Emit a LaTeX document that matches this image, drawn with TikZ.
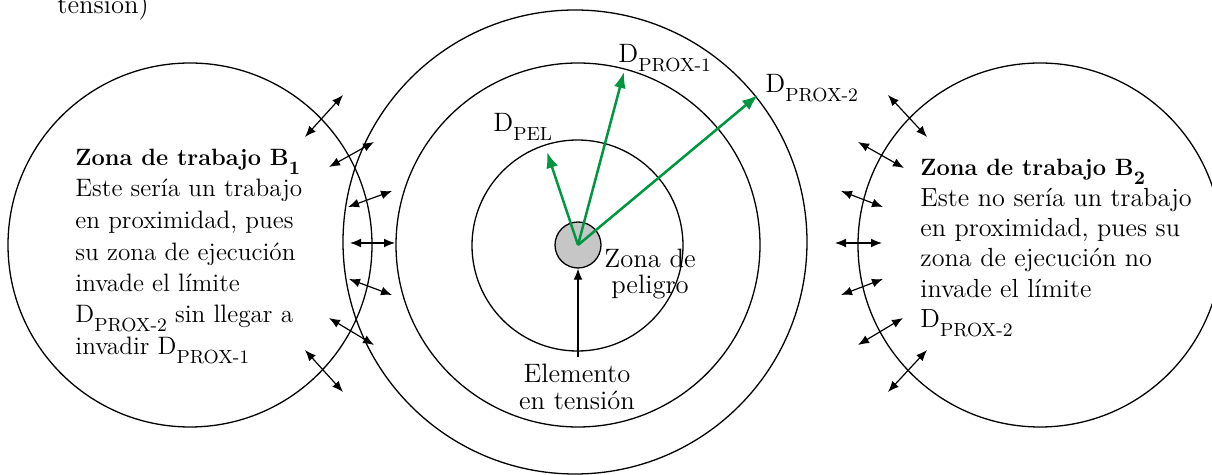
\documentclass[tikz,border=0pt]{standalone}
\usepackage{fontspec}
\setmainfont{Latin Modern Roman}
\usetikzlibrary{arrows.meta}
\definecolor{vgreen}{RGB}{0,150,64}
\definecolor{elgray}{RGB}{198,198,198}
\newcommand{\sbx}[1]{\raisebox{-4.3pt}{\fontsize{9.5}{9.5}\selectfont #1}}
\begin{document}
\begin{tikzpicture}[x=0.5pt,y=-0.5pt,
  ring/.style={line width=0.65pt},
  dbl/.style={line width=0.6pt,{Latex[length=5.5pt,width=4.4pt]}-{Latex[length=5.5pt,width=4.4pt]}},
  garrow/.style={vgreen,line width=1.25pt,-{Latex[length=8pt,width=6pt]}},
  karrow/.style={line width=0.6pt,-{Latex[length=5.5pt,width=4.4pt]}},
  body/.style={inner sep=0pt,anchor=base west,font=\fontsize{12.6}{14}\selectfont},
  bodyr/.style={inner sep=0pt,anchor=base west,font=\fontsize{13.1}{14}\selectfont},
  bodyb/.style={inner sep=0pt,anchor=base west,font=\fontsize{11.8}{14}\selectfont\bfseries},
  lbl/.style={inner sep=0pt,anchor=base,font=\fontsize{13.3}{14}\selectfont},
  lblw/.style={inner sep=0pt,anchor=base west,font=\fontsize{13.3}{14}\selectfont}]
\useasboundingbox (0,0) rectangle (1212,475);
% circles
\draw[ring] (190,245) circle[radius=182];
\draw[ring] (1040,245) circle[radius=182];
\draw[ring] (575,242) circle[radius=232];
\draw[ring] (578,245) circle[radius=182];
\draw[ring] (577.5,245.5) circle[radius=105.5];
\node[circle,draw,line width=0.65pt,fill=elgray,minimum size=23pt,inner sep=0pt] (elem) at (578,245) {};
% double arrows left
\draw[dbl] (305,137) -- (343,95);
\draw[dbl] (329,167) -- (374,142);
\draw[dbl] (348,207) -- (392,191);
\draw[dbl] (350,243) -- (395,243);
\draw[dbl] (349,279) -- (392,295);
\draw[dbl] (329,318) -- (374,345);
\draw[dbl] (305,350) -- (343,392);
% double arrows right
\draw[dbl] (888,95) -- (927,137);
\draw[dbl] (858,142) -- (904,168);
\draw[dbl] (841,191) -- (883,207);
\draw[dbl] (835,243) -- (882,243);
\draw[dbl] (841,295) -- (883,279);
\draw[dbl] (858,345) -- (903,318);
\draw[dbl] (888,392) -- (927,350);
% green radii
\coordinate (pel) at (547,152);
\coordinate (prox1) at (624,72);
\coordinate (prox2) at (758,95);
\draw[garrow] (elem.center) -- (pel);
\draw[garrow] (elem.center) -- (prox1);
\draw[garrow] (elem.center) -- (prox2);
% labels
\node[lblw] (lpel) at (493,132) {D\sbx{PEL}};
\node[lblw] (lp1) at (618,63) {D\sbx{PROX-1}};
\node[lblw] (lp2) at (765,93) {D\sbx{PROX-2}};
\node[lbl] (zp1) at (650,268) {Zona de};
\node[lbl] (zp2) at (650,294) {peligro};
\node[lbl] (el1) at (577,383) {Elemento};
\node[lbl] (el2) at (577,410) {en tensión};
\coordinate (elfoot) at (578,357);
\draw[karrow] (elfoot) -- (elem.south);
\node[lblw] (top) at (57,14) {tensión)};
% left text
\node[bodyb] (a1) at (75,166) {Zona de trabajo B\sbx{1}};
\node[body] (a2) at (75,197) {Este sería un trabajo};
\node[body] (a3) at (75,229) {en proximidad, pues};
\node[body] (a4) at (75,261) {su zona de ejecución};
\node[body] (a5) at (75,292) {invade el límite};
\node[body] (a6) at (75,323) {D\sbx{PROX-2} sin llegar a};
\node[body] (a7) at (75,355) {invadir D\sbx{PROX-1}};
% right text
\node[bodyb] (b1) at (920,176) {Zona de trabajo B\sbx{2}};
\node[bodyr] (b2) at (920,207) {Este no sería un trabajo};
\node[bodyr] (b3) at (920,237) {en proximidad, pues su};
\node[bodyr] (b4) at (920,267) {zona de ejecución no};
\node[bodyr] (b5) at (920,298) {invade el límite};
\node[bodyr] (b6) at (920,328) {D\sbx{PROX-2}};
\end{tikzpicture}
\end{document}
